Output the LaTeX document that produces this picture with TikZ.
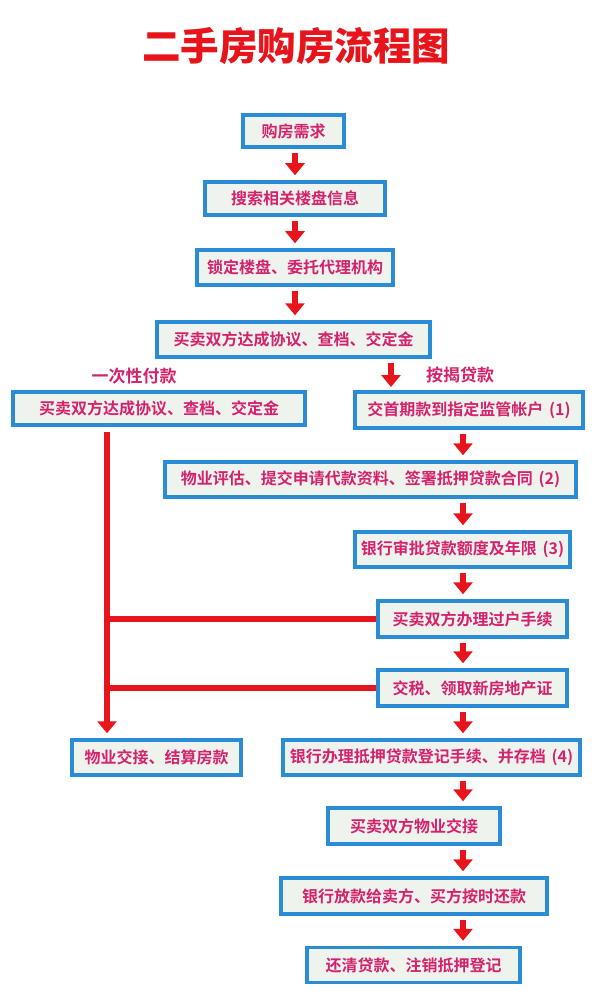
\documentclass[tikz,border=0pt]{standalone}
\usepackage{fontspec}
\setmainfont{Noto Sans CJK SC}[BoldFont={Noto Sans CJK SC Bold}]
\newfontfamily\titlefont{Noto Sans CJK SC Black}
\usetikzlibrary{arrows.meta,calc}
\definecolor{bborder}{HTML}{2B8CD6}
\definecolor{bfill}{HTML}{EEF3EE}
\definecolor{txt}{HTML}{D4236C}
\definecolor{rline}{HTML}{E8141C}
\newcommand{\pnum}[1]{\hspace{0.35em}(#1)}
\begin{document}
\begin{tikzpicture}[x=1pt,y=-1pt,
  box/.style={draw=bborder,line width=3.5pt,fill=bfill,inner sep=0pt,
    font=\bfseries\fontsize{16}{17}\selectfont,text=txt},
  arr/.style={draw=rline,line width=6pt,-{Triangle[width=19pt,length=12pt]}},
  rl/.style={draw=rline,line width=6.5pt},
  lbl/.style={font=\bfseries\fontsize{17}{18}\selectfont,text=txt,inner sep=0pt}]
\useasboundingbox (0,0) rectangle (596,1000);
\fill[white] (0,0) rectangle (596,1000);
\node[font=\titlefont\fontsize{38.5}{40}\selectfont,text=rline,inner sep=0pt] (title) at (296,46) {二手房购房流程图};
\node[box,minimum width=101pt,minimum height=32pt] (b1) at (293.5,131) {购房需求};
\node[box,minimum width=180pt,minimum height=33pt] (b2) at (295,198.5) {搜索相关楼盘信息};
\node[box,minimum width=196pt,minimum height=35pt] (b3) at (295,267.5) {锁定楼盘、委托代理机构};
\node[box,minimum width=273pt,minimum height=35pt] (b4) at (293.5,339.5) {买卖双方达成协议、查档、交定金};
\node[lbl] (la) at (134,376) {一次性付款};
\node[lbl] (lb) at (460,375) {按揭贷款};
\node[box,minimum width=292pt,minimum height=33pt] (l1) at (159,408.5) {买卖双方达成协议、查档、交定金};
\node[box,minimum width=228pt,minimum height=36pt] (r1) at (469,410) {交首期款到指定监管帐户\pnum{1}};
\node[box,minimum width=411pt,minimum height=35pt] (r2) at (370.5,479.5) {物业评估、提交申请代款资料、签署抵押贷款合同\pnum{2}};
\node[box,minimum width=215pt,minimum height=35pt] (r3) at (462.5,549.5) {银行审批贷款额度及年限\pnum{3}};
\node[box,minimum width=189pt,minimum height=36pt] (r4) at (472.5,619) {买卖双方办理过户手续};
\node[box,minimum width=189pt,minimum height=36pt] (r5) at (472.5,688) {交税、领取新房地产证};
\node[box,minimum width=297pt,minimum height=35pt] (r6) at (431.5,757.5) {银行办理抵押贷款登记手续、并存档\pnum{4}};
\node[box,minimum width=169pt,minimum height=35pt] (l2) at (156.5,757.5) {物业交接、结算房款};
\node[box,minimum width=172pt,minimum height=36pt] (r7) at (414,826) {买卖双方物业交接};
\node[box,minimum width=266pt,minimum height=36pt] (r8) at (414,896) {银行放款给卖方、买方按时还款};
\node[box,minimum width=213pt,minimum height=35pt] (r9) at (413.5,965) {还清贷款、注销抵押登记};
\coordinate (cT) at (295,0);
\coordinate (cR) at (463,0);
\coordinate (cL) at (107,0);
\coordinate (cM) at (391,0);
\coordinate (mEnd) at (391,387);
% top column
\draw[arr,shorten <=4pt,shorten >=5pt] (b1.south -| cT) -- (b2.north -| cT);
\draw[arr,shorten <=4pt,shorten >=5pt] (b2.south -| cT) -- (b3.north -| cT);
\draw[arr,shorten <=4pt,shorten >=5pt] (b3.south -| cT) -- (b4.north -| cT);
\draw[arr,shorten <=4pt] (b4.south -| cM) -- (mEnd);
% right column
\draw[arr,shorten <=4pt,shorten >=5pt] (r1.south -| cR) -- (r2.north -| cR);
\draw[arr,shorten <=4pt,shorten >=5pt] (r2.south -| cR) -- (r3.north -| cR);
\draw[arr,shorten <=4pt,shorten >=5pt] (r3.south -| cR) -- (r4.north -| cR);
\draw[arr,shorten <=4pt,shorten >=5pt] (r4.south -| cR) -- (r5.north -| cR);
\draw[arr,shorten <=4pt,shorten >=5pt] (r5.south -| cR) -- (r6.north -| cR);
\draw[arr,shorten <=4pt,shorten >=5pt] (r6.south -| cR) -- (r7.north -| cR);
\draw[arr,shorten <=4pt,shorten >=5pt] (r7.south -| cR) -- (r8.north -| cR);
\draw[arr,shorten <=4pt,shorten >=5pt] (r8.south -| cR) -- (r9.north -| cR);
% left branch
\draw[arr,shorten <=5pt,shorten >=5pt] (l1.south -| cL) -- (l2.north -| cL);
\draw[rl] (r4.west) -- (r4.west -| cL);
\draw[rl] (r5.west) -- (r5.west -| cL);
\end{tikzpicture}
\end{document}
